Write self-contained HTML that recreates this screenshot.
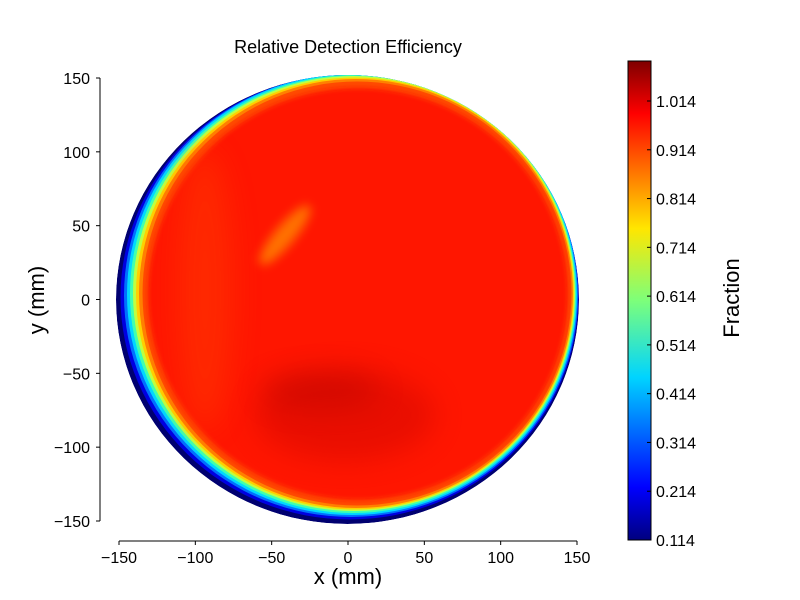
<!DOCTYPE html>
<html><head><meta charset="utf-8"><style>
body{margin:0;background:#fff}
svg{display:block}
text{font-family:"Liberation Sans",sans-serif;fill:#000}
</style></head><body>
<svg id="chart" width="800" height="600" viewBox="0 0 800 600">
<defs>
<linearGradient id="cbar" x1="0" y1="1" x2="0" y2="0">
<stop offset="0" stop-color="#00007f"/>
<stop offset="0.11" stop-color="#0000ff"/>
<stop offset="0.34" stop-color="#00d4ff"/>
<stop offset="0.5" stop-color="#7dff7a"/>
<stop offset="0.65" stop-color="#ffe600"/>
<stop offset="0.89" stop-color="#ff0000"/>
<stop offset="1" stop-color="#7f0000"/>
</linearGradient>
<filter id="blur" x="-100%" y="-100%" width="300%" height="300%"><feGaussianBlur stdDeviation="14"/></filter>
<filter id="blur2" x="-100%" y="-100%" width="300%" height="300%"><feGaussianBlur stdDeviation="5"/></filter>
<filter id="blur3" x="-10%" y="-10%" width="120%" height="120%"><feGaussianBlur stdDeviation="2.5"/></filter>
<clipPath id="clip"><ellipse cx="347.5" cy="299.5" rx="231.5" ry="224.5"/></clipPath>
</defs>
<text x="348" y="53" font-size="18" text-anchor="middle">Relative Detection Efficiency</text>
<g id="heat" clip-path="url(#clip)"></g>
<g id="axes"></g>
<rect x="628" y="61" width="23" height="479" fill="url(#cbar)" stroke="#000" stroke-width="1"/>
<g id="cbticks"></g>
<text x="348" y="584" font-size="22" text-anchor="middle">x (mm)</text>
<text x="0" y="0" font-size="22" text-anchor="middle" transform="translate(44,300) rotate(-90)">y (mm)</text>
<text x="0" y="0" font-size="22" text-anchor="middle" transform="translate(739,298) rotate(-90)">Fraction</text>
</svg>
<script>
const xTicks=[-150,-100,-50,0,50,100,150];
const yTicks=[-150,-100,-50,0,50,100,150];
const cbTicks=[0.114,0.214,0.314,0.414,0.514,0.614,0.714,0.814,0.914,1.014];
const cbMin=0.114, cbMax=1.096;
const NS="http://www.w3.org/2000/svg";
function X(v){return 348+v*(458/300);}
function Y(v){return 299.5-v*(443/300);}
function C(v){return 540-(v-cbMin)/(cbMax-cbMin)*479;}
function mk(tag,attrs,parent,txt){const e=document.createElementNS(NS,tag);for(const k in attrs)e.setAttribute(k,attrs[k]);if(txt!==undefined)e.textContent=txt;parent.appendChild(e);return e;}
// rim layers [color, shiftX, shiftUp, shrinkX, shrinkY]
const rim=[["#000070",0,0,0,0],["#0000e0",2,2.5,2.5,2],["#0070ff",3.5,4,4.5,3],["#00d8ff",4.5,5,6.5,4],["#40ffb0",5.5,5.5,8.5,5.5],["#c0ff40",6.5,6,10.5,7],["#ffd000",7.5,6,12.5,8.5],["#ff8000",8.5,6,14.5,10],["#ff4a00",9.5,6,17,12.5]];
const heat=document.getElementById('heat');
rim.forEach(r=>{
 const e=mk('ellipse',{cx:347.5+r[1],cy:299.5-r[2],rx:231.5-r[3],ry:224.5-r[4],fill:r[0]},heat);
 
 
});
let e=mk('ellipse',{cx:358,cy:294,rx:210,ry:206,fill:'#ff1800',filter:'url(#blur3)'},heat);


e=mk('ellipse',{cx:205,cy:290,rx:28,ry:140,fill:'#ff4000',opacity:0.45,filter:'url(#blur)'},heat);


e=mk('ellipse',{cx:345,cy:415,rx:90,ry:45,fill:'#c00000',opacity:0.35,filter:'url(#blur)'},heat);


e=mk('ellipse',{cx:320,cy:390,rx:60,ry:18,fill:'#a00000',opacity:0.3,filter:'url(#blur)'},heat);


e=mk('ellipse',{cx:285,cy:235,rx:10,ry:38,transform:'rotate(40 285 235)',fill:'#ff9000',opacity:0.75,filter:'url(#blur2)'},heat);


const ax=document.getElementById('axes');
let l=mk('line',{x1:100,y1:Y(150),x2:100,y2:Y(-150),stroke:'#000'},ax);


l=mk('line',{x1:X(-150),y1:541,x2:X(150),y2:541,stroke:'#000'},ax);


xTicks.forEach(v=>{
 const t=mk('line',{x1:X(v),y1:541,x2:X(v),y2:545,stroke:'#000'},ax);
 
 
 const s=mk('text',{x:X(v),y:563,'font-size':16,'text-anchor':'middle'},ax,(v<0?'\u2212'+(-v):''+v));
 
 
});
yTicks.forEach(v=>{
 const t=mk('line',{x1:96,y1:Y(v),x2:100,y2:Y(v),stroke:'#000'},ax);
 
 
 const s=mk('text',{x:90,y:Y(v)+6,'font-size':16,'text-anchor':'end'},ax,(v<0?'\u2212'+(-v):''+v));
 
 
});
const cb=document.getElementById('cbticks');
cbTicks.forEach(v=>{
 const t=mk('line',{x1:647,y1:C(v),x2:651,y2:C(v),stroke:'#000'},cb);
 
 
 const s=mk('text',{x:656,y:C(v)+6,'font-size':16},cb,v.toFixed(3));
 
 
});
</script>
</body></html>
